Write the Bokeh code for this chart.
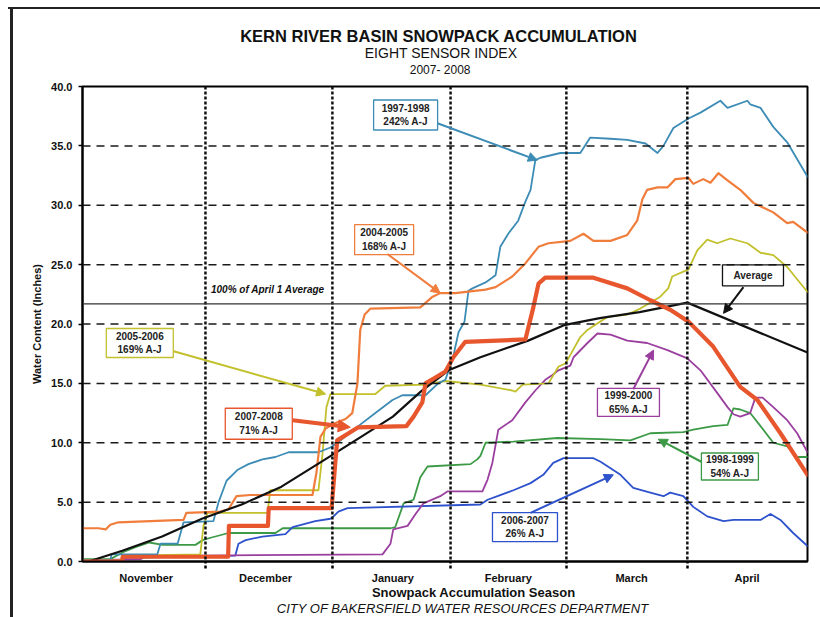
from bokeh.plotting import figure
from bokeh.layouts import column
from bokeh.models import (Range1d, Span, Label, Arrow, NormalHead, FixedTicker,
                          NumeralTickFormatter, ColumnDataSource)
from bokeh.embed import file_html
from bokeh.resources import INLINE

# ---------------- data (x = days since Nov 1, y = inches of water) ----------------
months = ["November", "December", "January", "February", "March", "April"]
month_label_days = [16, 46, 78, 107, 138, 167]
month_edge_days = [30.9, 62.8, 92.5, 121.6, 152.0]
y_ticks = [0, 5, 10, 15, 20, 25, 30, 35, 40]
grid_levels = [5, 10, 15, 20, 25, 30, 35]
april1_avg = 21.7

days_9798 = [0, 7.0, 7.3, 18.8, 19.6, 23.9, 25.4, 32.9, 34.2, 36.2, 38.9, 41.7, 45.2, 48.5, 51.8, 59.3,
             62.3, 64.1, 69.3, 73.6, 77.9, 80.4, 86.2, 89.4, 91.2, 93.0, 94.5, 96.0, 97.0, 98.0, 101.3,
             103.8, 105.0, 107.0, 109.5, 111.3, 112.6, 113.8, 115.1, 120.1, 125.1, 127.6, 132.7, 136.9,
             141.5, 144.5, 146.0, 148.5, 152.3, 155.3, 160.3, 162.1, 167.1, 167.8, 170.4, 173.6, 177.1, 182.2]
swe_9798 = [0.1, 0.1, 0.6, 0.6, 1.5, 1.5, 3.3, 3.4, 5.0, 6.8, 7.7, 8.2, 8.6, 8.8, 9.2, 9.2,
            9.6, 10.0, 11.4, 12.5, 13.6, 14.0, 14.0, 15.0, 15.3, 17.0, 19.3, 20.2, 22.8, 23.0, 23.5,
            24.1, 26.5, 27.6, 28.7, 30.3, 31.3, 33.8, 34.0, 34.4, 34.4, 35.7, 35.6, 35.5,
            35.2, 34.4, 35.0, 36.5, 37.3, 37.8, 38.8, 38.2, 38.8, 38.5, 38.2, 36.6, 35.3, 32.4]

days_0405 = [0, 4.0, 5.8, 7.0, 9.0, 17.1, 25.4, 26.1, 34.7, 36.7, 38.7, 42.2, 57.8, 58.8, 59.8, 61.1,
             63.1, 66.1, 67.8, 69.1, 69.8, 70.9, 72.4, 84.9, 88.0, 89.9, 93.7, 101.3, 103.8, 108.0,
             111.3, 114.6, 117.1, 122.6, 125.9, 128.4, 132.7, 136.9, 139.4, 140.7, 141.9, 144.5, 147.0,
             149.0, 152.3, 153.5, 156.0, 157.8, 159.8, 162.1, 165.3, 168.6, 173.6, 177.1, 178.6, 182.2]
swe_0405 = [2.8, 2.8, 2.7, 3.1, 3.3, 3.4, 3.5, 4.1, 4.2, 4.4, 5.5, 5.6, 5.6, 7.5, 10.5, 11.2,
            11.6, 12.0, 12.5, 15.0, 19.5, 20.8, 21.3, 21.4, 22.3, 22.6, 22.6, 22.9, 23.1, 24.0,
            25.1, 26.5, 26.8, 27.0, 27.6, 27.0, 27.0, 27.5, 28.7, 30.5, 31.3, 31.5, 31.5,
            32.2, 32.3, 31.8, 32.2, 31.9, 32.7, 32.1, 31.3, 30.2, 29.4, 28.5, 28.6, 27.7]

days_0506 = [0, 9.5, 10.1, 29.6, 30.4, 31.4, 46.5, 47.2, 59.3, 60.3, 61.3, 62.3, 73.6, 76.1, 86.2,
             91.2, 100.0, 108.0, 108.8, 110.6, 117.1, 119.6, 121.4, 122.6, 125.1, 126.9, 131.9, 136.9,
             140.2, 145.2, 147.2, 148.2, 152.3, 154.5, 157.0, 159.5, 162.8, 167.1, 170.4, 173.6, 177.1, 182.2]
swe_0506 = [0.1, 0.1, 0.5, 0.6, 3.0, 4.1, 4.1, 6.0, 6.0, 9.0, 13.0, 14.1, 14.1, 14.8, 14.9,
            15.2, 14.9, 14.4, 14.3, 14.9, 15.0, 16.4, 16.7, 17.4, 18.9, 19.5, 20.6, 20.8,
            21.3, 22.3, 23.0, 24.0, 24.6, 26.2, 27.1, 26.8, 27.2, 26.8, 26.0, 25.8, 24.8, 22.7]

days_9900 = [0, 14.6, 15.8, 29.6, 75.4, 77.4, 78.1, 81.7, 83.7, 85.7, 89.9, 91.7, 100.5, 101.8, 103.0,
             104.5, 108.0, 111.3, 113.8, 116.3, 118.1, 119.6, 122.6, 123.4, 126.9, 129.4, 132.7, 136.9,
             141.9, 147.0, 152.0, 155.3, 159.5, 162.1, 163.6, 165.3, 167.8, 169.1, 170.9, 173.6, 177.1,
             179.6, 182.2]
swe_9900 = [0.1, 0.2, 0.4, 0.5, 0.6, 1.5, 2.7, 3.0, 4.0, 4.9, 5.5, 5.9, 5.9, 6.9, 8.3,
            11.1, 11.9, 13.4, 14.4, 15.3, 15.7, 16.1, 16.5, 17.2, 18.4, 19.2, 19.1, 18.6,
            18.4, 17.8, 17.1, 16.1, 14.2, 13.0, 12.4, 12.2, 12.5, 13.8, 13.8, 13.0, 11.9,
            10.8, 9.2]

days_9899 = [0, 7.0, 10.3, 13.3, 16.8, 20.1, 28.4, 30.2, 32.2, 36.7, 48.5, 50.3, 77.4, 78.6, 80.7,
             83.2, 84.9, 86.7, 97.5, 99.2, 100.0, 101.3, 108.3, 119.3, 130.2, 137.7, 142.7, 151.0,
             153.5, 158.5, 162.1, 163.6, 165.3, 167.8, 170.4, 173.6, 177.1, 179.6, 182.2]
swe_9899 = [0.2, 0.2, 0.8, 1.2, 1.6, 1.4, 1.4, 1.8, 2.0, 2.4, 2.4, 2.8, 2.8, 2.9, 4.9,
            5.2, 7.1, 8.0, 8.2, 8.6, 8.9, 10.0, 10.1, 10.4, 10.3, 10.2, 10.8, 10.9,
            11.1, 11.4, 11.5, 12.9, 12.8, 12.5, 11.4, 10.0, 9.7, 8.8, 8.8]

days_0607 = [0, 9.5, 10.8, 38.4, 39.2, 41.0, 45.2, 51.0, 52.8, 58.5, 62.3, 63.1, 64.3, 66.6, 100.0,
             101.8, 104.3, 108.3, 112.6, 115.8, 118.3, 120.9, 128.4, 130.2, 135.2, 138.4, 142.7, 146.0,
             147.7, 151.0, 153.5, 157.0, 161.1, 163.6, 170.4, 172.9, 175.4, 178.6, 182.2]
swe_0607 = [0.1, 0.1, 0.3, 0.5, 1.5, 1.8, 2.1, 2.3, 2.9, 3.4, 3.6, 3.8, 4.2, 4.5, 4.8,
            5.2, 5.5, 6.0, 6.6, 7.3, 8.3, 8.7, 8.7, 8.4, 7.3, 6.2, 5.8, 5.5,
            5.8, 5.5, 4.6, 3.8, 3.4, 3.5, 3.5, 4.0, 3.5, 2.4, 1.3]

days_0708 = [0, 10.0, 10.1, 36.6, 36.8, 46.6, 46.8, 62.6, 64.0, 69.3, 81.4, 83.2, 85.4, 86.2, 88.7,
             91.2, 93.2, 96.2, 111.3, 113.3, 114.6, 116.3, 128.4, 136.9, 142.7, 147.7, 152.3, 158.5,
             165.3, 169.6, 175.4, 182.2]
swe_0708 = [0.0, 0.0, 0.4, 0.4, 3.0, 3.0, 4.5, 4.5, 10.2, 11.3, 11.4, 12.2, 13.4, 15.0, 15.5,
            16.0, 17.2, 18.5, 18.7, 21.4, 23.4, 23.9, 23.9, 23.0, 22.0, 21.2, 20.2, 18.1,
            14.7, 13.6, 10.8, 7.3]

days_avg = [1.5, 10, 20, 30, 40, 50, 61, 70, 78, 85, 92, 100, 112, 121, 130, 140, 152, 182.2]
swe_avg = [0.0, 0.9, 2.1, 3.6, 4.8, 6.3, 8.6, 10.5, 12.2, 14.3, 16.1, 17.2, 18.6, 19.9, 20.5, 21.0, 21.8, 17.6]

# ---------------- annotation call-outs ----------------
ann_text = ["1997-1998\n242% A-J", "2004-2005\n168% A-J", "2005-2006\n169% A-J", "2007-2008\n71% A-J",
            "Average", "1999-2000\n65% A-J", "1998-1999\n54% A-J", "2006-2007\n26% A-J"]
ann_color = ["#3D8CB5", "#F07D3C", "#C2C02C", "#E8562E", "#111111", "#9B3F9F", "#3C9A46", "#2E52CC"]
ann_x = [81.2, 75.8, 14.4, 44.3, 168.5, 137.2, 162.7, 111.2]
ann_y = [37.6, 27.1, 18.4, 11.6, 24.1, 13.4, 8.0, 2.9]
ann_w = [64, 59, 67, 67, 61, 62, 57, 65]
ann_h = [30, 30, 29, 31, 21, 28, 27, 29]
arr_x0 = [89.2, 76.6, 22.9, 52.8, 166.1, 138.4, 155.5, 112.6]
arr_y0 = [36.9, 25.9, 17.7, 11.9, 23.1, 14.5, 8.4, 4.1]
arr_x1 = [114.3, 89.9, 61.1, 67.3, 161.1, 143.5, 144.7, 133.4]
arr_y1 = [33.8, 22.6, 14.1, 11.3, 20.9, 17.8, 10.3, 7.3]
arr_w = [2, 2, 2, 4, 2, 2, 2, 2]

FONT = "Liberation Sans"
INK = "#111111"

# ---------------- header (titles) ----------------
hdr = figure(width=820, height=78, x_range=Range1d(0, 820), y_range=Range1d(0, 78),
             output_backend="svg", toolbar_location=None,
             x_axis_location=None, y_axis_location=None,
             min_border_left=0, min_border_right=0, min_border_top=0, min_border_bottom=0)
hdr.grid.visible = False
hdr.outline_line_color = None
hdr.background_fill_alpha = 0
hdr.border_fill_alpha = 0
hdr.add_layout(Label(x=403, y=43, text="KERN RIVER BASIN SNOWPACK ACCUMULATION",
                     text_align="center", text_baseline="middle", text_font=FONT,
                     text_font_size="16.5px", text_font_style="bold", text_color=INK))
hdr.add_layout(Label(x=405.5, y=26, text="EIGHT SENSOR INDEX",
                     text_align="center", text_baseline="middle", text_font=FONT,
                     text_font_size="14px", text_color=INK))
hdr.add_layout(Label(x=404.5, y=9, text="2007- 2008",
                     text_align="center", text_baseline="middle", text_font=FONT,
                     text_font_size="12px", text_color=INK))

# ---------------- main chart ----------------
p = figure(width=820, height=508, x_range=Range1d(0, 182.2), y_range=Range1d(0, 40),
           output_backend="svg", toolbar_location=None,
           min_border_left=82, min_border_right=13, min_border_top=8, min_border_bottom=24)
p.xgrid.visible = False
p.ygrid.visible = False
p.background_fill_color = "white"
p.border_fill_alpha = 0
p.outline_line_color = "black"
p.outline_line_width = 2

p.yaxis.ticker = FixedTicker(ticks=y_ticks)
p.yaxis.formatter = NumeralTickFormatter(format="0.0")
p.yaxis.axis_label = "Water Content (Inches)"
p.yaxis.axis_label_text_font = FONT
p.yaxis.axis_label_text_font_size = "11px"
p.yaxis.axis_label_text_font_style = "bold"
p.yaxis.axis_label_text_color = INK
p.yaxis.axis_label_standoff = 5
p.yaxis.major_label_text_font = FONT
p.yaxis.major_label_text_font_size = "11px"
p.yaxis.major_label_text_font_style = "bold"
p.yaxis.major_label_text_color = INK
p.yaxis.major_label_standoff = 6
p.yaxis.major_tick_out = 4
p.yaxis.major_tick_in = 0
p.yaxis.minor_tick_out = 0
p.yaxis.minor_tick_in = 0
p.yaxis.axis_line_width = 2
p.yaxis.major_tick_line_width = 1.5

p.xaxis.ticker = FixedTicker(ticks=month_label_days, minor_ticks=month_edge_days)
p.xaxis.major_label_overrides = {d: m for d, m in zip(month_label_days, months)}
p.xaxis.major_label_text_font = FONT
p.xaxis.major_label_text_font_size = "11px"
p.xaxis.major_label_text_font_style = "bold"
p.xaxis.major_label_text_color = INK
p.xaxis.major_label_standoff = 3
p.xaxis.major_tick_out = 0
p.xaxis.major_tick_in = 0
p.xaxis.minor_tick_out = 7
p.xaxis.minor_tick_in = 0
p.xaxis.minor_tick_line_width = 2.5
p.xaxis.minor_tick_line_dash = "3 2"
p.xaxis.axis_line_width = 2

for g in grid_levels:
    p.add_layout(Span(location=g, dimension="width", line_color="#1a1a1a",
                      line_width=1.5, line_dash="8 6"))
for e in month_edge_days:
    p.add_layout(Span(location=e, dimension="height", line_color=INK,
                      line_width=2.5, line_dash="3 2"))
p.add_layout(Span(location=april1_avg, dimension="width", line_color="#333333", line_width=1.2))

series = [
    (days_9899, swe_9899, "#3C9A46", 1.8),
    (days_0607, swe_0607, "#2E52CC", 1.8),
    (days_9900, swe_9900, "#9B3F9F", 1.8),
    (days_0506, swe_0506, "#C2C02C", 1.8),
    (days_9798, swe_9798, "#3D8CB5", 1.8),
    (days_0405, swe_0405, "#F07D3C", 2.2),
    (days_avg, swe_avg, INK, 2.2),
    (days_0708, swe_0708, "#E8562E", 4.2),
]
for xs, ys, c, w in series:
    p.line(xs, ys, line_color=c, line_width=w, line_join="round", line_cap="round")

for i in range(len(ann_text)):
    c = ann_color[i]
    p.add_layout(Arrow(end=NormalHead(size=9 if arr_w[i] < 3 else 12, fill_color=c, line_color=c),
                       x_start=arr_x0[i], y_start=arr_y0[i], x_end=arr_x1[i], y_end=arr_y1[i],
                       line_color=c, line_width=arr_w[i]))

box_src = ColumnDataSource(dict(x=ann_x, y=ann_y, w=ann_w, h=ann_h, c=ann_color))
p.rect(x="x", y="y", width="w", height="h", width_units="screen", height_units="screen",
       fill_color="white", line_color="c", line_width=1.3, source=box_src)
for i in range(len(ann_text)):
    p.add_layout(Label(x=ann_x[i], y=ann_y[i], text=ann_text[i], text_align="center",
                       text_baseline="middle", text_font=FONT, text_font_size="10px",
                       text_font_style="bold", text_color="#222222", text_line_height=1.25))

p.add_layout(Label(x=46.6, y=22.9, text="100% of April 1 Average", text_align="center",
                   text_baseline="middle", text_font=FONT, text_font_size="10px",
                   text_font_style="bold italic", text_color=INK))

# ---------------- footer ----------------
ftr = figure(width=820, height=31, x_range=Range1d(0, 820), y_range=Range1d(0, 31),
             output_backend="svg", toolbar_location=None,
             x_axis_location=None, y_axis_location=None,
             min_border_left=0, min_border_right=0, min_border_top=0, min_border_bottom=0)
ftr.grid.visible = False
ftr.outline_line_color = None
ftr.background_fill_alpha = 0
ftr.border_fill_alpha = 0
ftr.add_layout(Label(x=442.5, y=25.5, text="Snowpack Accumulation Season",
                     text_align="center", text_baseline="middle", text_font=FONT,
                     text_font_size="13px", text_font_style="bold", text_color=INK))
ftr.add_layout(Label(x=430, y=9, text="CITY OF BAKERSFIELD WATER RESOURCES DEPARTMENT",
                     text_align="center", text_baseline="middle", text_font=FONT,
                     text_font_size="13px", text_font_style="italic", text_color=INK))

page = column(hdr, p, ftr, spacing=0,
              styles={"background": "linear-gradient(#222222,#222222) 10px 8px / 3px 609px no-repeat, "
                                    "linear-gradient(#222222,#222222) 8px 7px / 812px 2px no-repeat, "
                                    "#ffffff"})

open("out.html", "w").write(file_html(page, INLINE))
